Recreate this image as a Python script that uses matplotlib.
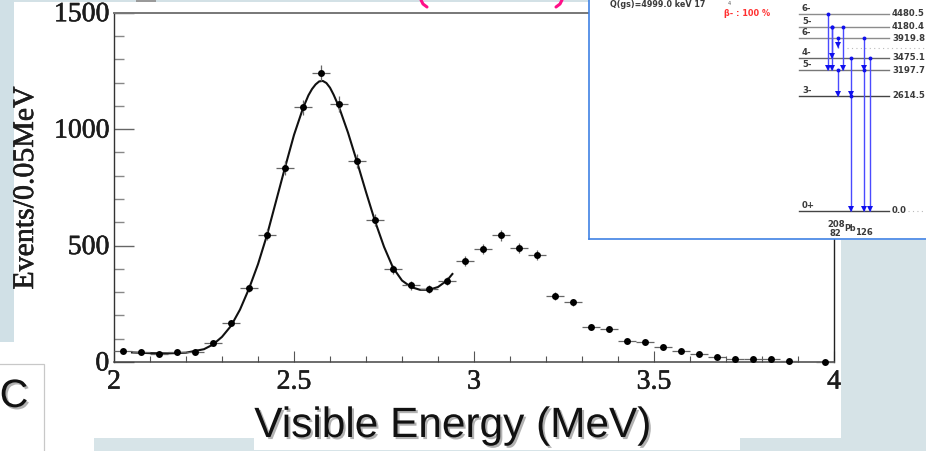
import matplotlib
matplotlib.use("Agg")
import matplotlib.pyplot as plt
import matplotlib.patheffects as pe
from matplotlib.patches import Rectangle
from matplotlib.transforms import Affine2D

W, H = 926, 451

# ---- main spectrum ----
energy = [2.025, 2.075, 2.125, 2.175, 2.225, 2.275, 2.325, 2.375, 2.425, 2.475, 2.525, 2.575, 2.625,
          2.675, 2.725, 2.775, 2.825, 2.875, 2.925, 2.975, 3.025, 3.075, 3.125, 3.175, 3.225, 3.275,
          3.325, 3.375, 3.425, 3.475, 3.525, 3.575, 3.625, 3.675, 3.725, 3.775, 3.825, 3.875, 3.975]
events = [46, 41, 36, 41, 41, 80, 166, 319, 547, 834, 1093, 1242, 1108,
          863, 611, 398, 329, 313, 348, 435, 484, 544, 490, 459, 283, 256,
          152, 142, 90, 86, 64, 48, 34, 23, 13, 13, 12, 3, 2]
events_err = [7, 6, 6, 6, 6, 9, 13, 18, 23, 29, 33, 35, 33,
              29, 25, 20, 18, 18, 19, 21, 22, 23, 22, 21, 17, 16,
              12, 12, 9, 9, 8, 7, 6, 5, 4, 4, 3, 2, 1]
fit_energy = [2.05, 2.10, 2.15, 2.20, 2.25, 2.275, 2.30, 2.325, 2.35, 2.375, 2.40, 2.425, 2.45, 2.475, 2.50,
              2.525, 2.54, 2.55, 2.56, 2.57, 2.58, 2.59, 2.60, 2.61, 2.625, 2.65, 2.675, 2.70, 2.725, 2.75,
              2.775, 2.80, 2.825, 2.85, 2.875, 2.90, 2.925, 2.94]
fit_events = [41, 38, 37, 40, 55, 75, 108, 155, 225, 315, 420, 545, 690, 835, 975,
              1090, 1145, 1172, 1192, 1205, 1207, 1198, 1178, 1148, 1095, 985, 860, 730, 605, 495,
              405, 350, 322, 310, 310, 322, 350, 378]
x_major = [2, 2.5, 3, 3.5, 4]
x_major_labels = ["2", "2.5", "3", "3.5", "4"]
x_minor = [2.1, 2.2, 2.3, 2.4, 2.6, 2.7, 2.8, 2.9, 3.1, 3.2, 3.3, 3.4, 3.6, 3.7, 3.8, 3.9]
y_major = [0, 500, 1000, 1500]
y_minor = [100, 200, 300, 400, 600, 700, 800, 900, 1100, 1200, 1300, 1400]

# ---- 208Pb level scheme ----
level_energy = [4480.5, 4180.4, 3919.8, 3475.1, 3197.7, 2614.5, 0.0]
level_label = ["4480.5", "4180.4", "3919.8", "3475.1", "3197.7", "2614.5", "0.0"]
level_spin = ["6-", "5-", "6-", "4-", "5-", "3-", "0+"]
level_color = ["#8c8c8c", "#8c8c8c", "#8c8c8c", "#666666", "#777777", "#444444", "#444444"]
trans_x = [828.3, 832, 832, 838.3, 838.3, 843.3, 851, 851, 864, 864, 870]
trans_from = [4480.5, 4180.4, 4180.4, 3919.8, 3197.7, 4180.4, 3475.1, 2614.5, 3919.8, 3197.7, 3475.1]
trans_to = [3197.7, 3475.1, 3197.7, 3708, 2614.5, 3197.7, 2614.5, 0.0, 3197.7, 0.0, 0.0]

SERIF = "Liberation Serif"
SANS = "Liberation Sans"
INK = "#1c1c1c"
heavy = [pe.withStroke(linewidth=0.4, foreground=INK)]

fig = plt.figure(figsize=(W / 100, H / 100), dpi=100, facecolor="white")


def px_axes(x0, y0, x1, y1, z):
    a = fig.add_axes([x0 / W, 1 - y1 / H, (x1 - x0) / W, (y1 - y0) / H], zorder=z)
    a.patch.set_alpha(0)
    return a


# main axes
ax = px_axes(114, 12.7, 834, 362, 1)
ax.set_xlim(2, 4)
ax.set_ylim(0, 1500)
ax.plot(fit_energy, fit_events, color="#111111", lw=1.5, zorder=3)
ax.errorbar(energy, events, xerr=0.025, yerr=events_err, fmt="none", ecolor="#666666",
            elinewidth=0.9, capsize=0, zorder=4, clip_on=False)
ax.plot(energy, events, "o", color="black", ms=5.0, mew=0, zorder=5, clip_on=False)
ax.set_xticks(x_major)
ax.set_xticklabels(x_major_labels)
ax.set_xticks(x_minor, minor=True)
ax.set_yticks(y_major)
ax.set_yticks(y_minor, minor=True)
ax.tick_params(axis="x", which="major", direction="in", length=8, width=0.8, color="#555555", pad=5.5)
ax.tick_params(axis="x", which="minor", direction="in", length=4, width=0.8, color="#555555")
ax.tick_params(axis="y", which="major", direction="in", length=14.5, width=1.0, color="#666666", pad=3.5)
ax.tick_params(axis="y", which="minor", direction="in", length=7.5, width=1.0, color="#888888")
for lab in ax.get_xticklabels() + ax.get_yticklabels():
    lab.set_fontfamily(SERIF)
    lab.set_fontsize(20)
    lab.set_color(INK)
    lab.set_path_effects(heavy)
for lab in ax.get_yticklabels():
    lab.set_verticalalignment("center")
    lab.set_transform(lab.get_transform() + Affine2D().translate(0, -2))
ax.spines["left"].set(color="#333333", lw=1.0)
ax.spines["bottom"].set(color="#444444", lw=1.1)
ax.spines["right"].set(color="#222222", lw=1.0)
ax.spines["top"].set(color="#777777", lw=1.4)

# slide backdrop, drawn in pixel coordinates
bg = px_axes(0, 0, W, H, 3)
bg.set_xlim(0, W)
bg.set_ylim(H, 0)
bg.axis("off")
slide = [(0, 0, 926, 2.3, "#d3e1e6"), (0, 0, 14, 342, "#d0e0e6"), (841, 240, 85, 211, "#d6e3e7"),
         (740, 438, 110, 13, "#d6e3e7"), (94, 438, 160, 13, "#d7e4e8"), (254, 449.7, 486, 2, "#d7e4e8"),
         (136, 0, 20, 2.3, "#9a9a9a")]
for x, y, w, h, c in slide:
    bg.add_patch(Rectangle((x, y), w, h, fc=c, ec="none", zorder=1))
bg.add_patch(Rectangle((-5, 364), 48.5, 100, fc="white", ec="#c8c8c8", lw=0.9, zorder=2))
bg.plot([421, 423, 427], [0, 4, 7], color="#ff1088", lw=2.2, zorder=2, solid_capstyle="round")
bg.plot([562, 560, 556], [0, 4, 7], color="#ff1088", lw=2.2, zorder=2, solid_capstyle="round")

shadow = [pe.SimplePatchShadow(offset=(1.5, -1.5), shadow_rgbFace="#666666", alpha=0.5), pe.Normal()]
bg.text(26, 188, "Events/0.05MeV", rotation=90, ha="center", va="center", family=SERIF,
        fontsize=21.5, color=INK, zorder=3, path_effects=heavy)
bg.text(453, 426, "Visible Energy (MeV)", ha="center", va="center", family=SANS, fontsize=30.5,
        color="#111111", zorder=3, path_effects=shadow)
bg.text(14, 396, "C", ha="center", va="center", family=SANS, fontsize=28.5, color="#111111",
        zorder=3, path_effects=shadow)

# inset: y axis is the level energy
inset = px_axes(589, 0, W, 239.5, 4)
inset.set_facecolor("white")
inset.patch.set_alpha(1)
inset.set_xlim(589, W)
inset.set_ylim(-654.0, 4792.7)
inset.set_xticks([])
inset.set_yticks([])
for s in ("top", "right"):
    inset.spines[s].set_visible(False)
for s in ("left", "bottom"):
    inset.spines[s].set(color="#3f82e4", lw=1.2)
small = dict(family="DejaVu Sans", fontsize=6.1, weight="bold", color="#3a3a3a", va="center")
for e, lab, spin, c in zip(level_energy, level_label, level_spin, level_color):
    inset.plot([799, 889], [e, e], color=c, lw=1.0, zorder=2)
    inset.text(892, e, lab, ha="left", **small)
    inset.text(802, e + 130, spin, ha="left", **small)
inset.plot([847, W], [3708, 3708], color="#bbbbbb", lw=0.8, ls=(0, (1, 3)))
inset.plot([908, W], [0, 0], color="#bbbbbb", lw=0.8, ls=(0, (1, 3)))
inset.vlines(trans_x, trans_to, trans_from, color="#4a4aff", lw=1.0, zorder=3)
inset.plot(trans_x, trans_from, "o", color="#1010ee", ms=2.8, mew=0, zorder=4)
inset.plot(trans_x, [t + 50 for t in trans_to], "v", color="#1010ee", ms=4.2, mew=0, zorder=4)
inset.text(610, 4680, "Q(gs)=4999.0 keV 17", ha="left", **dict(small, fontsize=5.8))
inset.text(724, 4480, "\u03b2- : 100 %", ha="left", family="DejaVu Sans", fontsize=5.9, weight="bold",
           color="#ff3030", va="center")
inset.text(728, 4720, "4", ha="left", family="DejaVu Sans", fontsize=3.6, color="#555555", va="center")
inset.text(827, -310, "208", ha="left", **small)
inset.text(829, -515, "82", ha="left", **small)
inset.text(844, -405, "Pb", ha="left", **dict(small, fontsize=5.8))
inset.text(855, -500, "126", ha="left", **small)

fig.savefig("out.png", dpi=100, facecolor="white")
